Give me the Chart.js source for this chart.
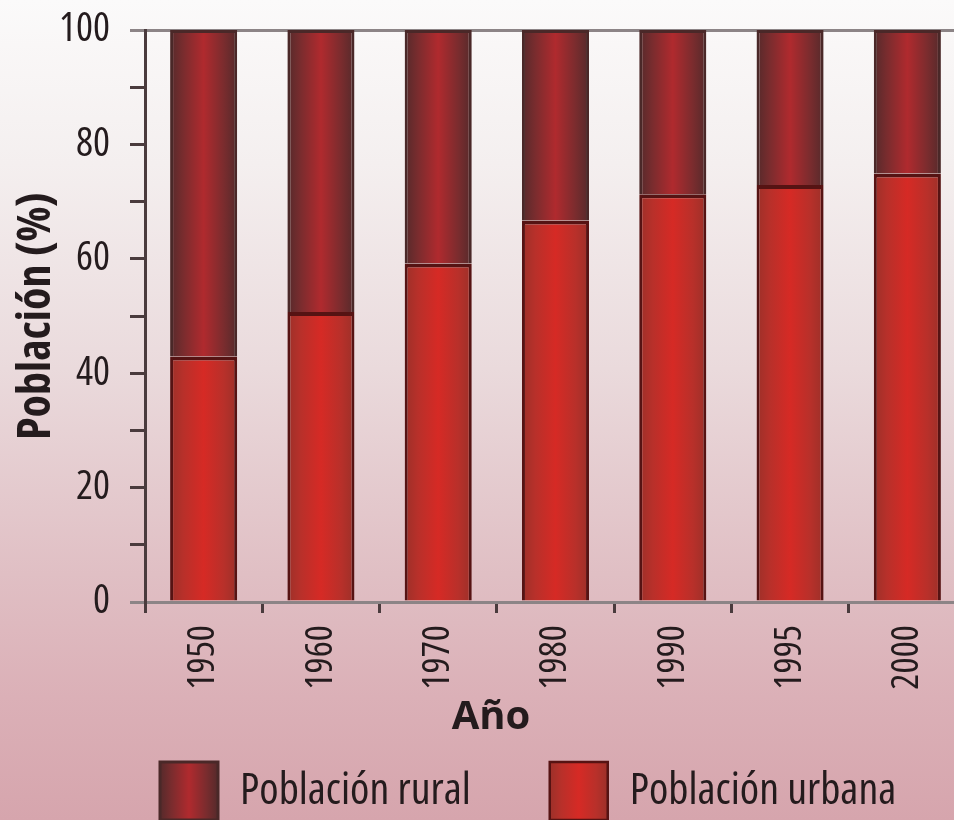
<!DOCTYPE html>
<html lang="es">
<head>
<meta charset="UTF-8">
<title>Población urbana y rural</title>
<script src="https://cdn.jsdelivr.net/npm/chart.js"></script>
<style>
    html, body { margin: 0; padding: 0; }
    body {
        width: 954px;
        height: 820px;
        overflow: hidden;
        background: linear-gradient(to bottom, #fbfafa 0%, #f4efef 20%, #eadadc 45%, #e0bfc4 70%, #dbb0b7 85%, #d6a5ad 100%);
    }
    /* Chart.js keeps 44px above the plot for the "100" label; the print has 30 */
    #chart { display: block; margin-top: -14px; }
</style>
</head>
<body>
<canvas id="chart" width="966" height="903"></canvas>
<script>
// values (% of population)
const YEARS = ['1950', '1960', '1970', '1980', '1990', '1995', '2000'];
const URBANA = [42.9, 50.7, 59.2, 66.7, 71.3, 72.9, 74.9];
const RURAL = [57.1, 49.3, 40.8, 33.3, 28.7, 27.1, 25.1];
const Y_LABELS = [0, 20, 40, 60, 80, 100];

// Open Sans has a width axis, so "condensed" gives a narrow face
const FAMILY = "'Open Sans', 'DejaVu Sans Condensed', sans-serif";
const AXIS_DARK = '#4a3b3d';
const AXIS_GRAY = '#8c8486';
const TEXT = '#241b1d';
const BAR_PCT = 0.572;
const LEGEND_PAD = 79;
const LEGEND_BOX = 58;
const LEGEND_DX = 81;
const LEGEND_DY = -59;
const TITLE_DX = 8;

const URBAN_STOPS = [[0, '#9c3029'], [0.2, '#b8302a'], [0.5, '#d62a25'], [0.8, '#b8302a'], [1, '#9c3029']];
const RURAL_STOPS = [[0, '#552a2b'], [0.2, '#7a2c2e'], [0.5, '#b02a2e'], [0.8, '#7a2c2e'], [1, '#552a2b']];

function hGradient(ctx, left, width, stops) {
    const g = ctx.createLinearGradient(left, 0, left + width, 0);
    stops.forEach(s => g.addColorStop(s[0], s[1]));
    return g;
}

// horizontal shading across each bar, like a cylinder
function shade(c, stops, flat) {
    const chart = c.chart;
    if (!chart.chartArea || c.dataIndex === undefined) return flat;
    const xs = chart.scales.x;
    const width = xs.width / YEARS.length * BAR_PCT;
    return hGradient(chart.ctx, xs.getPixelForValue(c.dataIndex) - width / 2, width, stops);
}

const nudge = {
    id: 'nudge',
    // the printed legend and "Año" are not centred on the page; move them over
    afterLayout(chart) {
        const lg = chart.legend;
        lg.left += LEGEND_DX; lg.right += LEGEND_DX;
        lg.top += LEGEND_DY; lg.bottom += LEGEND_DY;
        const t = chart.titleBlock;
        t.left += TITLE_DX; t.right += TITLE_DX;
    },
    // give the legend swatches their own shading, placed on the swatch
    afterUpdate(chart) {
        const lg = chart.legend;
        lg.legendItems.forEach((item, i) => {
            const box = lg.legendHitBoxes[i];
            const stops = item.datasetIndex === 0 ? URBAN_STOPS : RURAL_STOPS;
            item.fillStyle = hGradient(chart.ctx, box.left, LEGEND_BOX, stops);
        });
    }
};

new Chart(document.getElementById('chart'), {
    type: 'bar',
    data: {
        labels: YEARS,
        datasets: [
            {
                label: 'Población urbana',
                data: URBANA,
                backgroundColor: c => shade(c, URBAN_STOPS, '#cf2b26'),
                borderColor: '#561313',
                borderWidth: { top: 4, left: 3, right: 3, bottom: 0 },
                barPercentage: BAR_PCT,
                categoryPercentage: 1
            },
            {
                label: 'Población rural',
                data: RURAL,
                backgroundColor: c => shade(c, RURAL_STOPS, '#9a2b2d'),
                borderColor: '#4a2828',
                borderWidth: 3,
                barPercentage: BAR_PCT,
                categoryPercentage: 1
            }
        ]
    },
    options: {
        responsive: false,
        animation: false,
        scales: {
            x: {
                stacked: true,
                afterFit: s => { s.height = 92; },
                grid: { offset: true, drawOnChartArea: false, color: AXIS_DARK, lineWidth: 3, tickLength: 11 },
                border: { color: AXIS_GRAY, width: 3 },
                ticks: {
                    minRotation: 90,
                    maxRotation: 90,
                    autoSkip: false,
                    padding: 12,
                    color: TEXT,
                    font: { family: FAMILY, size: 38, weight: 'condensed' }
                }
            },
            y: {
                stacked: true,
                min: 0,
                max: 100,
                afterFit: s => { s.width = 145; },
                grid: {
                    color: c => (c.tick && c.tick.value === 100) ? AXIS_GRAY : 'transparent',
                    tickColor: c => (c.tick && (c.tick.value === 100 || c.tick.value === 0)) ? AXIS_GRAY : AXIS_DARK,
                    lineWidth: 3,
                    tickLength: 15
                },
                border: { color: AXIS_DARK, width: 3 },
                ticks: {
                    stepSize: 10,
                    autoSkip: false,
                    padding: 20,
                    color: TEXT,
                    font: { family: FAMILY, size: 40, weight: 'condensed' },
                    callback: v => Y_LABELS.includes(v) ? v : ''
                },
                title: {
                    display: true,
                    text: 'Población (%)',
                    color: TEXT,
                    font: { family: FAMILY, size: 46, weight: 'bold condensed' },
                    padding: { top: 9, bottom: 0 }
                }
            }
        },
        plugins: {
            tooltip: { enabled: false },
            title: {
                display: true,
                text: 'Año',
                position: 'bottom',
                weight: 500,
                color: TEXT,
                font: { family: FAMILY, size: 40, weight: 'bold' },
                padding: { top: 0, bottom: 0 }
            },
            legend: {
                position: 'bottom',
                align: 'start',
                reverse: true,
                labels: {
                    boxWidth: LEGEND_BOX,
                    boxHeight: LEGEND_BOX,
                    padding: LEGEND_PAD,
                    color: TEXT,
                    font: { family: FAMILY, size: 44, weight: 'condensed' }
                }
            }
        }
    },
    plugins: [nudge]
});
</script>
</body>
</html>
